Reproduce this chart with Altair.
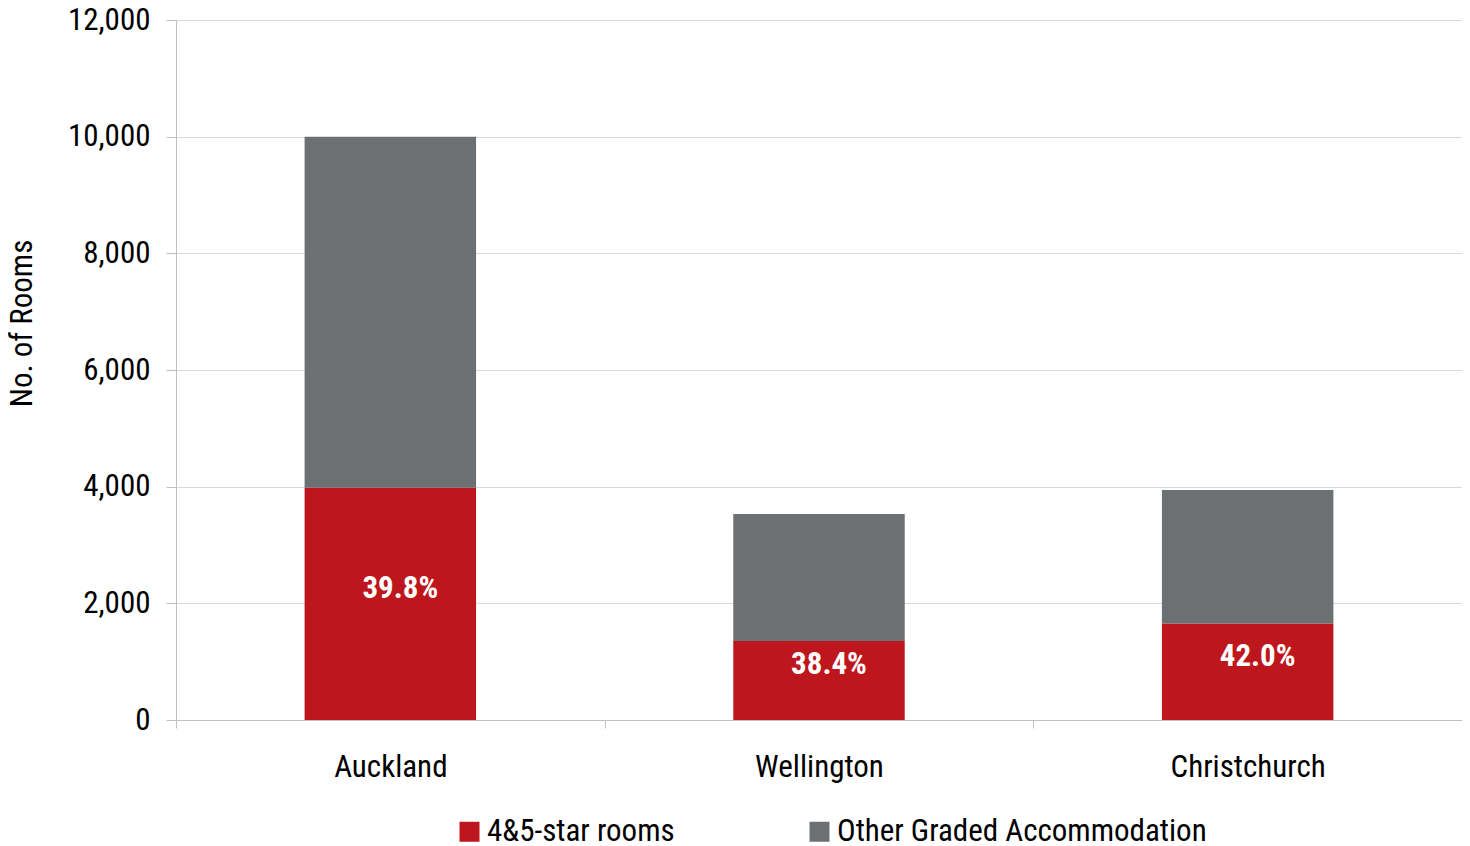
import altair as alt
import pandas as pd

cities = ["Auckland", "Wellington", "Christchurch"]
star_rooms = [3980, 1355, 1655]
other_rooms = [6020, 2175, 2290]
pct_labels = ["39.8%", "38.4%", "42.0%"]
series = ["4&5-star rooms", "Other Graded Accommodation"]
colors = ["#BE161D", "#6D7073"]
y_ticks = [0, 2000, 4000, 6000, 8000, 10000, 12000]

rows = []
for c, s, o in zip(cities, star_rooms, other_rooms):
    rows.append({"city": c, "series": series[0], "value": s, "ord": 0})
    rows.append({"city": c, "series": series[1], "value": o, "ord": 1})
df = pd.DataFrame(rows)
lab = pd.DataFrame({"city": cities, "star": star_rooms, "pct": pct_labels})

FONT = "Roboto Condensed"
FS = 31

x_enc = alt.X(
    "city:N", sort=cities, title=None,
    scale=alt.Scale(paddingInner=0, paddingOuter=0),
    axis=alt.Axis(tickBand="extent", labelAngle=0, labelFontSize=FS, labelFont=FONT,
                  labelColor="#000000", tickSize=8, tickColor="#c0c0c0",
                  domainColor="#c0c0c0", labelPadding=24, grid=False),
)

bars = alt.Chart(df).mark_bar(width=alt.RelativeBandSize(0.4)).encode(
    x=x_enc,
    y=alt.Y("value:Q", stack="zero", title="No. of Rooms",
            scale=alt.Scale(domain=[0, 12000], nice=False),
            axis=alt.Axis(values=y_ticks, format=",.0f", labelFontSize=FS, labelFont=FONT,
                          labelColor="#000000", tickSize=10, tickColor="#c0c0c0",
                          domainColor="#c0c0c0", gridColor="#d9d9d9", labelPadding=16,
                          titleFont=FONT, titleFontSize=FS, titleFontWeight="normal",
                          titleColor="#000000", titleAngle=270, titleX=-154, titleY=303,
                          titleAlign="center", titleBaseline="middle")),
    color=alt.Color("series:N", sort=series,
                    scale=alt.Scale(domain=series, range=colors),
                    legend=alt.Legend(title=None, orient="none", legendX=278, legendY=796,
                                      direction="horizontal", symbolType="square",
                                      symbolSize=400, symbolStrokeWidth=0,
                                      labelFontSize=FS, labelFont=FONT, labelColor="#000000",
                                      columnPadding=129, labelOffset=2, padding=0,
                                      labelLimit=600)),
    order=alt.Order("ord:Q", sort="ascending"),
)

text = alt.Chart(lab).transform_calculate(mid="datum.star / 2").mark_text(
    font=FONT, fontWeight="bold", fontSize=FS, color="white", dx=10, dy=-15
).encode(
    x=alt.X("city:N", sort=cities),
    y=alt.Y("mid:Q"),
    text="pct:N",
)

chart = alt.layer(bars, text).properties(
    width=1286, height=700,
    autosize=alt.AutoSizeParams(type="none"),
    padding={"left": 168, "top": 12, "right": 0, "bottom": 130},
).configure_view(stroke=None).configure(background="white")

chart.save("out.html", embed_options={"renderer": "svg", "actions": False})
